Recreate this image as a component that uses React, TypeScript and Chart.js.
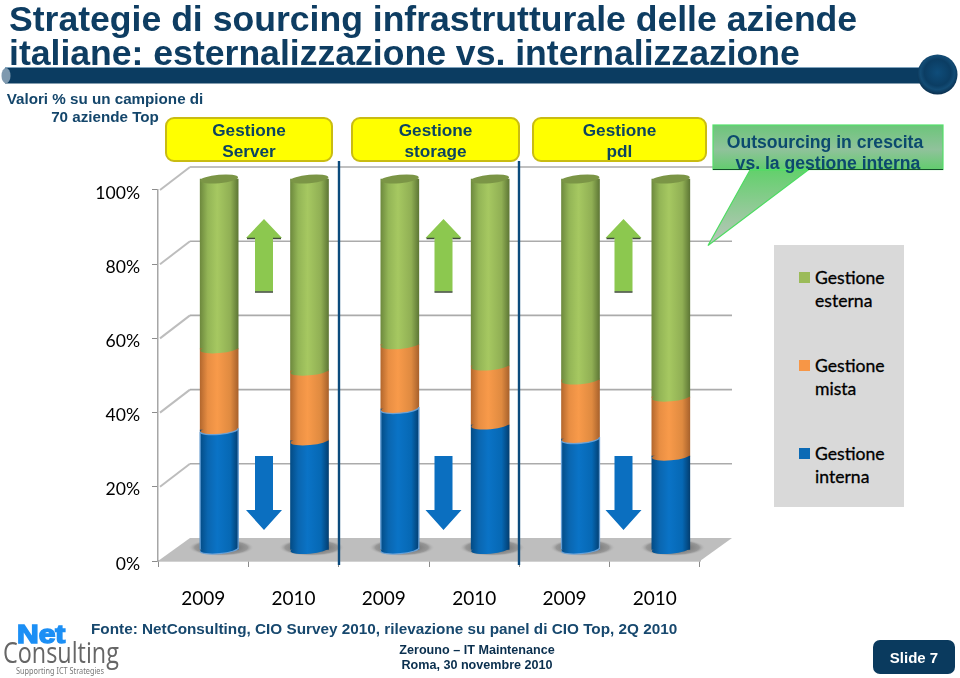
import React, { useEffect, useRef } from "react";
import { Chart, registerables } from "chart.js";

Chart.register(...registerables);

const titleLines = [
  "Strategie di sourcing infrastrutturale delle aziende",
  "italiane: esternalizzazione vs. internalizzazione",
];
const categories = ["2009", "2010", "2009", "2010", "2009", "2010"];
const interna = [32.3, 29.4, 38, 33.7, 29.9, 25.3];
const mista = [21.9, 18.8, 17.3, 15.9, 15.9, 15.9];
const esterna = [45.8, 51.8, 44.7, 50.4, 54.2, 58.8];
const seriesNames = ["Gestione interna", "Gestione mista", "Gestione esterna"];
const outlinedBars = [true, false, true, false, true, false];

const NAVY = "#0E3D62";
const BAR_W = 38;
const BAR_DX = 16;
const BAR_DY = -11;
const WALL_DX = 32;
const WALL_DY = -23;
const RY = 4.2;
const TILT = -0.09;

const ramps = [
  ["#034C86", "#0A66B0", "#0A73C6", "#0668B4", "#033F72"],
  ["#B4682E", "#E88E43", "#F89A4A", "#DF8A40", "#A9622C"],
  ["#6E8A3E", "#93B556", "#A6C861", "#90AF54", "#5F7836"],
];

const ramp = (c: any) => {
  const ds = c.datasetIndex ?? 0;
  const colors = ramps[ds];
  if (c.dataIndex === undefined || !c.chart.scales.x) return colors[2];
  const x = c.chart.scales.x.getPixelForValue(c.dataIndex);
  if (!Number.isFinite(x)) return colors[2];
  const g = c.chart.ctx.createLinearGradient(x - BAR_W / 2, 0, x + BAR_W / 2, 0);
  [0, 0.2, 0.45, 0.8, 1].forEach((s, i) => g.addColorStop(s, colors[i]));
  return g;
};

const stage3d = {
  id: "stage3d",
  beforeDatasetsDraw(chart: any) {
    const { ctx, chartArea: a, scales } = chart;
    const y = scales.y;
    const floorY = y.getPixelForValue(0);
    ctx.save();
    ctx.fillStyle = "#BEBEBE";
    ctx.beginPath();
    ctx.moveTo(a.left, floorY);
    ctx.lineTo(a.right, floorY);
    ctx.lineTo(a.right + WALL_DX, floorY + WALL_DY);
    ctx.lineTo(a.left + WALL_DX, floorY + WALL_DY);
    ctx.closePath();
    ctx.fill();
    y.ticks.forEach((t: any) => {
      const py = y.getPixelForValue(t.value);
      if (t.value > 0) {
        ctx.strokeStyle = "#ABABAB";
        ctx.lineWidth = 1.6;
        ctx.beginPath();
        ctx.moveTo(a.left + WALL_DX, py + WALL_DY);
        ctx.lineTo(a.right + WALL_DX, py + WALL_DY);
        ctx.stroke();
        ctx.strokeStyle = "#BDBDBD";
        ctx.lineWidth = 2;
        ctx.beginPath();
        ctx.moveTo(a.left + 2, py);
        ctx.lineTo(a.left + WALL_DX, py + WALL_DY);
        ctx.stroke();
      }
    });
    const meta = chart.getDatasetMeta(0);
    meta.data.forEach((el: any) => {
      const cx = el.x + BAR_DX + 2;
      const cy = el.base + BAR_DY - 2;
      ctx.save();
      ctx.translate(cx, cy);
      ctx.scale(1, 0.26);
      const g = ctx.createRadialGradient(0, 0, 14, 0, 0, 33);
      g.addColorStop(0, "rgba(110,110,110,0.9)");
      g.addColorStop(0.65, "rgba(125,125,125,0.6)");
      g.addColorStop(1, "rgba(190,190,190,0)");
      ctx.fillStyle = g;
      ctx.beginPath();
      ctx.arc(0, 0, 33, 0, Math.PI * 2);
      ctx.fill();
      ctx.restore();
    });
    ctx.restore();
    ctx.save();
    ctx.translate(BAR_DX, BAR_DY);
  },
  afterDatasetsDraw(chart: any) {
    const { ctx } = chart;
    [0, 1, 2].forEach((ds) => {
      const meta = chart.getDatasetMeta(ds);
      meta.data.forEach((el: any) => {
        ctx.fillStyle = el.options.backgroundColor;
        ctx.beginPath();
        ctx.ellipse(el.x, el.base, BAR_W / 2, RY, TILT, 0, Math.PI * 2);
        ctx.fill();
        if (ds === 2) {
          ctx.fillStyle = "#7B9546";
          ctx.beginPath();
          ctx.ellipse(el.x, el.y, BAR_W / 2, RY, TILT, 0, Math.PI * 2);
          ctx.fill();
        }
      });
    });
    const blue = chart.getDatasetMeta(0);
    blue.data.forEach((el: any, i: number) => {
      if (!outlinedBars[i]) return;
      const l = el.x - BAR_W / 2;
      const r = el.x + BAR_W / 2;
      ctx.strokeStyle = "rgba(110,165,220,0.9)";
      ctx.lineWidth = 1.3;
      ctx.beginPath();
      ctx.moveTo(l, el.base);
      ctx.lineTo(l, el.y + 2);
      ctx.moveTo(r, el.base);
      ctx.lineTo(r, el.y - 2);
      ctx.stroke();
      ctx.beginPath();
      ctx.ellipse(el.x, el.base, BAR_W / 2, RY, TILT, 0, Math.PI);
      ctx.stroke();
      ctx.beginPath();
      ctx.ellipse(el.x, el.y, BAR_W / 2, RY, TILT, 0, Math.PI);
      ctx.stroke();
    });
    ctx.restore();
  },
};

const T = ({ x, y, w, lh, size, color, align = "center", weight = 700, family = "'Liberation Sans', Arial, sans-serif", children, style }: any) => (
  <div
    style={{
      position: "absolute",
      left: x,
      top: y - lh / 2,
      width: w,
      height: lh,
      lineHeight: `${lh}px`,
      fontSize: size,
      fontWeight: weight,
      fontFamily: family,
      color,
      textAlign: align,
      whiteSpace: "nowrap",
      ...style,
    }}
  >
    {children}
  </div>
);

const yellowBox = (x: number, w: number, a: string, b: string) => (
  <React.Fragment key={x}>
    <div
      style={{
        position: "absolute",
        left: x,
        top: 117,
        width: w,
        height: 45,
        boxSizing: "border-box",
        background: "#FFFF00",
        border: "2.5px solid #C9BC12",
        borderRadius: 9,
      }}
    />
    <T x={x} y={130} w={w} lh={21} size={17.2} color="#0C4460">{a}</T>
    <T x={x} y={151} w={w} lh={21} size={17.2} color="#0C4460">{b}</T>
  </React.Fragment>
);

const upArrow = (c: number) => (
  <g key={c}>
    <path d={`M${c - 18} 238 L${c} 219 L${c + 18} 238 L${c + 9} 238 L${c + 9} 291.5 L${c - 9} 291.5 L${c - 9} 238 Z`} fill="#8CC84F" />
    <path d={`M${c - 17} 238.5 H${c - 9} M${c + 9} 238.5 H${c + 17} M${c - 9} 292 H${c + 9}`} stroke="#3F4A3A" strokeWidth="1.6" fill="none" />
  </g>
);

const downArrow = (c: number) => (
  <path
    key={c}
    d={`M${c - 9} 456 H${c + 9} V510 H${c + 18} L${c} 530 L${c - 18} 510 H${c - 9} Z`}
    fill="#0B6FC0"
  />
);

export default function App() {
  const ref = useRef<HTMLCanvasElement>(null);
  useEffect(() => {
    const chart = new Chart(ref.current as HTMLCanvasElement, {
      type: "bar",
      data: {
        labels: categories,
        datasets: [interna, mista, esterna].map((data, i) => ({
          label: seriesNames[i],
          data,
          backgroundColor: ramp,
          borderWidth: 0,
          barThickness: BAR_W,
          clip: false,
        })),
      },
      plugins: [stage3d],
      options: {
        responsive: false,
        animation: false,
        events: [],
        layout: { padding: { left: 9, right: 0, top: 0, bottom: 57 } },
        plugins: {
          legend: { display: false },
          tooltip: { enabled: false },
          title: {
            display: true,
            text: titleLines,
            align: "start",
            color: NAVY,
            font: { family: "'Liberation Sans', Arial, sans-serif", size: 35.6, weight: "bold", lineHeight: 0.955 },
            padding: { top: 4, bottom: 118 },
          },
        },
        scales: {
          x: {
            stacked: true,
            afterFit: (s: any) => { s.height = 60; },
            border: { display: true, color: "#A6A6A6", width: 1.5 },
            grid: { display: true, drawOnChartArea: false, drawTicks: true, tickLength: 6, tickColor: "#8C8C8C" },
            ticks: { color: "#000", font: { family: "Lato", size: 19 }, padding: 20, maxRotation: 0 },
          },
          y: {
            stacked: true,
            min: 0,
            max: 100,
            afterFit: (s: any) => { s.width = 149; },
            border: { display: true, color: "#A6A6A6", width: 1.5 },
            grid: { display: true, drawOnChartArea: false, drawTicks: true, tickLength: 6, tickColor: "#8C8C8C" },
            ticks: {
              stepSize: 20,
              color: "#000",
              padding: 12,
              labelOffset: 3,
              font: { family: "Lato", size: 17.6 },
              callback: (v: any) => `${v}%`,
            },
          },
          spacer: {
            position: "right",
            afterFit: (s: any) => { s.width = 260; },
            border: { display: false },
            grid: { display: false },
            ticks: { display: false },
          },
        },
      },
    } as any);
    return () => chart.destroy();
  }, []);

  const legendRows = [
    { name: seriesNames[2], color: "#9BBB59", y: 277.5 },
    { name: seriesNames[1], color: "#F79646", y: 365.5 },
    { name: seriesNames[0], color: "#0B6AB5", y: 453.5 },
  ];

  return (
    <div style={{ position: "absolute", left: 0, top: 0, width: 960, height: 678, overflow: "hidden", background: "#fff" }}>
      <canvas ref={ref} width={960} height={678} style={{ display: "block", position: "absolute", left: 0, top: 0 }} />

      <div style={{ position: "absolute", left: 774, top: 245, width: 130, height: 262, background: "#D9D9D9" }} />

      <svg width={960} height={678} style={{ position: "absolute", left: 0, top: 0 }}>
        <defs>
          <radialGradient id="ball" cx="0.5" cy="0.45" r="0.55">
            <stop offset="0" stopColor="#0F4D7A" />
            <stop offset="0.6" stopColor="#0B3D63" />
            <stop offset="0.78" stopColor="#134C75" />
            <stop offset="1" stopColor="#0A2F4E" />
          </radialGradient>
          <linearGradient id="call" x1="0" y1="0" x2="0" y2="1">
            <stop offset="0" stopColor="#6CC57A" />
            <stop offset="0.55" stopColor="#90C29B" />
            <stop offset="1" stopColor="#62CC6E" />
          </linearGradient>
          <linearGradient id="tail" x1="0" y1="0" x2="0" y2="1">
            <stop offset="0" stopColor="#63D06C" />
            <stop offset="1" stopColor="#BCC5BE" />
          </linearGradient>
        </defs>

        <rect x="5" y="68" width="925" height="15.5" fill="#0B3C61" />
        <line x1="5" y1="67.5" x2="930" y2="67.5" stroke="#7FA3BD" strokeWidth="1" />
        <ellipse cx="6" cy="75.7" rx="4.5" ry="7.6" fill="#7E99AF" />
        <circle cx="937.5" cy="74.5" r="20" fill="url(#ball)" />

        {[264, 443.5, 623.5].map(upArrow)}
        {[264, 443.5, 623.5].map(downArrow)}

        <line x1="339" y1="161" x2="339" y2="565" stroke="#0B4A7C" strokeWidth="2.4" />
        <line x1="519" y1="161" x2="519" y2="565" stroke="#0B4A7C" strokeWidth="2.4" />

        <path d="M708 245.5 L750 170 H808 Z" fill="url(#tail)" stroke="#4EDC62" strokeWidth="1.2" />
        <rect x="713" y="125" width="230" height="44.5" fill="url(#call)" />
        <rect x="713" y="125" width="230" height="44.5" fill="none" stroke="#54E06A" strokeWidth="1.2" />
        <path d="M713 169.5 H750 M808 169.5 H943" stroke="#14502A" strokeWidth="1.2" />

        {legendRows.map((r) => (
          <rect key={r.name} x="799" y={r.y - 5.5} width="11" height="11" fill={r.color} />
        ))}
      </svg>

      {legendRows.map((r) => {
        const [a, b] = r.name.split(" ");
        const st = { WebkitTextStroke: "0.3px #000" };
        return (
          <React.Fragment key={r.name}>
            <T x={815} y={r.y} w={85} lh={23} size={17.6} color="#000" align="left" weight={400} family="Lato" style={st}>{a}</T>
            <T x={815} y={r.y + 23} w={85} lh={23} size={17.6} color="#000" align="left" weight={400} family="Lato" style={st}>{b}</T>
          </React.Fragment>
        );
      })}

      <T x={5} y={99} w={200} lh={18} size={15.2} color="#14466B">Valori % su un campione di</T>
      <T x={5} y={117} w={200} lh={18} size={15.2} color="#14466B">70 aziende Top</T>

      {yellowBox(165, 168, "Gestione", "Server")}
      {yellowBox(351, 169, "Gestione", "storage")}
      {yellowBox(532, 175, "Gestione", "pdl")}

      <T x={713} y={142} w={224} lh={21} size={17.6} color="#0C4A6E">Outsourcing in crescita</T>
      <T x={713} y={163} w={230} lh={21} size={17.6} color="#0C4A6E">vs. la gestione interna</T>

      <T x={91} y={629} w={600} lh={18} size={15.3} color="#17486E" align="left">Fonte: NetConsulting, CIO Survey 2010, rilevazione su panel di CIO Top, 2Q 2010</T>
      <T x={377} y={650} w={200} lh={15} size={12.6} color="#0A2F4E">Zerouno – IT Maintenance</T>
      <T x={377} y={665} w={200} lh={15} size={12.6} color="#0A2F4E">Roma, 30 novembre 2010</T>

      <div style={{ position: "absolute", left: 873, top: 640, width: 82, height: 34, background: "#0A3A5E", borderRadius: 7 }} />
      <T x={873} y={658} w={82} lh={20} size={15} color="#fff">Slide 7</T>

      <T x={3} y={652} w={150} lh={34} size={30} color="#666" align="left" weight={400} family="'Open Sans'" style={{ transform: "scaleX(0.78)", transformOrigin: "left center" }}>Consulting</T>
      <T x={17} y={634} w={60} lh={24} size={25} color="#1C8FF5" align="left" weight={700} style={{ WebkitTextStroke: "1.5px #1C8FF5", transform: "scaleX(1.2)", transformOrigin: "left center" }}>Net</T>
      <T x={16} y={671} w={120} lh={12} size={9.5} color="#777" align="left" weight={400} family="'Noto Sans'" style={{ transform: "scaleX(0.77)", transformOrigin: "left center" }}>Supporting ICT Strategies</T>
    </div>
  );
}
